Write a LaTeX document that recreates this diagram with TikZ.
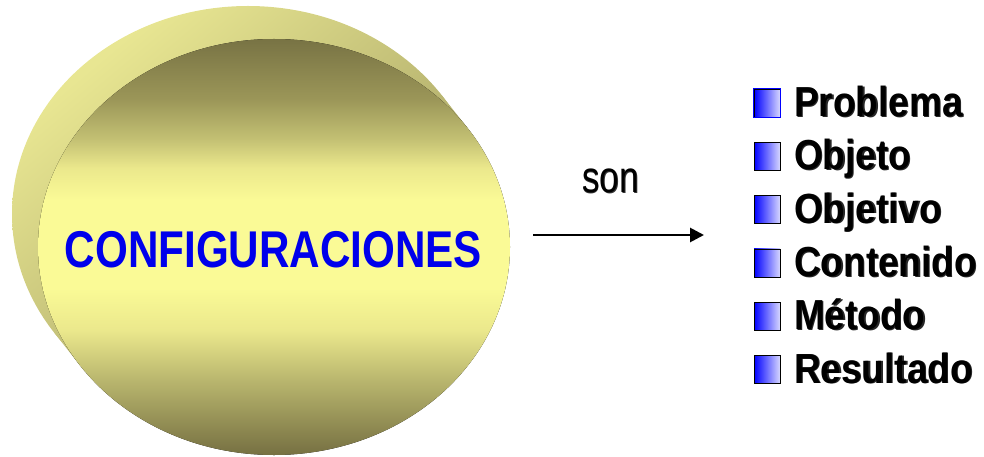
\documentclass[tikz,border=0pt]{standalone}
\usepackage{fontspec}
\setmainfont{Liberation Sans}
\usetikzlibrary{arrows.meta,calc}
\definecolor{fA}{RGB}{118,112,66}
\definecolor{fB}{RGB}{155,150,88}
\definecolor{fC}{RGB}{195,192,115}
\definecolor{fD}{RGB}{235,232,140}
\definecolor{fE}{RGB}{250,250,150}
\definecolor{fF}{RGB}{185,182,110}
\definecolor{fG}{RGB}{140,135,80}
\definecolor{fH}{RGB}{120,115,68}
\definecolor{backlight}{RGB}{232,230,146}
\definecolor{backdark}{RGB}{145,140,85}
\definecolor{capblue}{RGB}{0,0,235}
\definecolor{bulletblue}{RGB}{0,0,255}
\definecolor{bulletpale}{RGB}{215,215,255}
\pgfdeclareverticalshading{frontshade}{100bp}{%
  color(0bp)=(fA); color(25bp)=(fA); color(28bp)=(fG); color(34bp)=(fF);
  color(40bp)=(fD); color(45bp)=(fE); color(55.7bp)=(fE); color(59.5bp)=(fD);
  color(63bp)=(fC); color(67.8bp)=(fB); color(75bp)=(fH); color(100bp)=(fH)}
\tikzset{
  backfill/.style={left color=backlight, right color=backdark, shading angle=40},
  frontdisc/.style={shading=frontshade, draw=none},
  bulletbox/.style={minimum width=26pt, minimum height=28pt, inner sep=0pt, left color=bulletblue, right color=bulletpale, draw=black, line width=0.8pt},
  itemfont/.style={anchor=base west, inner sep=0pt, xscale=0.88, font=\bfseries\fontsize{42}{44}\selectfont},
  itemtext/.style={itemfont, text=black},
  itemshadow/.style={itemfont, text=black!85},
}
\begin{document}
\begin{tikzpicture}[x=1pt,y=-1pt]
\useasboundingbox (0,0) rectangle (984,457);
% extruded back of the disc
\coordinate (bk) at (248,214);
\coordinate (fr) at (274,247);
\begin{scope}
  \clip (bk) ellipse [x radius=236, y radius=208];
  \shade[backfill] (12,6) rectangle (510,455);
\end{scope}
\begin{scope}
  \clip ($(bk)+(193.8,-118.6)$) -- ($(fr)+(193.8,-118.6)$) -- ($(fr)+(-193.8,118.6)$) -- ($(bk)+(-193.8,118.6)$) -- cycle;
  \shade[backfill] (12,6) rectangle (510,455);
\end{scope}
% front face
\fill[frontdisc] (fr) ellipse [x radius=236, y radius=208];
\node[anchor=base, inner sep=0pt, text=capblue, font=\bfseries\fontsize{51.7}{54}\selectfont, xscale=0.816] (conf) at (273.5,267) {CONFIGURACIONES};
% arrow
\coordinate (a0) at (533,235);
\coordinate (a1) at (704,235);
\draw[line width=2.8pt, -{Triangle[length=14pt,width=14pt]}] (a0) -- (a1);
\node[anchor=base, inner sep=0pt, font=\fontsize{44}{46}\selectfont, xscale=0.8, text=black!80] (sonshadow) at (611.2,193.7) {son};
\node[anchor=base, inner sep=0pt, font=\fontsize{44}{46}\selectfont, xscale=0.8] (son) at (610.5,193) {son};
% list
\foreach \i/\w in {0/Problema,1/Objeto,2/Objetivo,3/Contenido,4/M\'etodo,5/Resultado}{
  \node[bulletbox] (b\i) at (767,{103+53.3*\i}) {};
  \node[itemshadow] (s\i) at (795.2,{117.2+53.3*\i}) {\w};
  \node[itemtext] (t\i) at (794,{116.5+53.3*\i}) {\w};
}
\draw[bulletblue, line width=0.8pt] (b0.south west) rectangle (b0.north east);
\end{tikzpicture}
\end{document}
